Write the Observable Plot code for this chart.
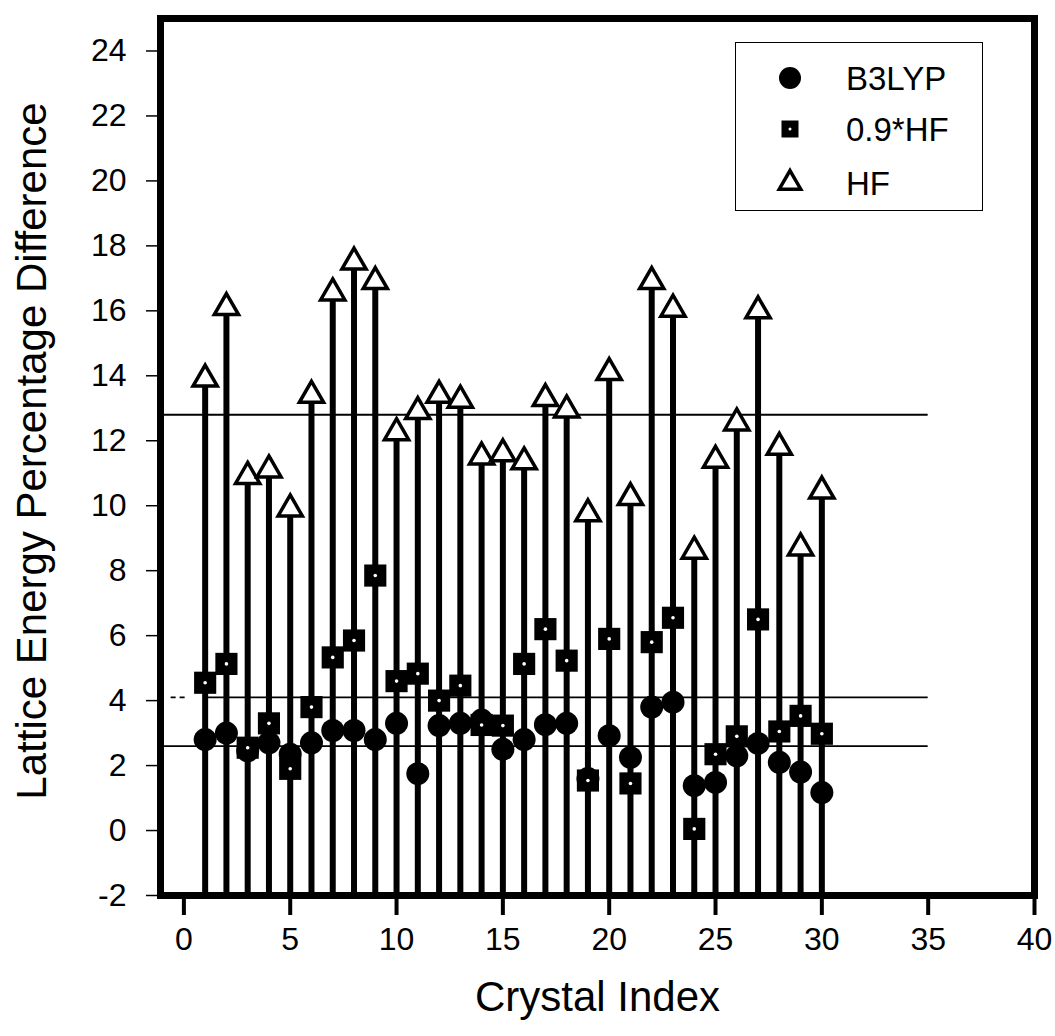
<!DOCTYPE html>
<html><head><meta charset="utf-8">
<script src="https://cdn.jsdelivr.net/npm/d3@7"></script>
<script src="https://cdn.jsdelivr.net/npm/@observablehq/plot@0.6"></script>
<style>
body{margin:0;background:#fff;}
#wrap{position:relative;width:1055px;height:1036px;font-family:"Liberation Sans",Arial,sans-serif;}
#legend{position:absolute;left:735px;top:42px;width:248px;height:169px;border:1.5px solid #000;box-sizing:border-box;background:#fff}
#legend svg{position:absolute;left:0;top:0}
</style></head><body><div id="wrap"></div>
<script>
// ---- data ----
const crystalIndex = [1,2,3,4,5,6,7,8,9,10,11,12,13,14,15,16,17,18,19,20,21,22,23,24,25,26,27,28,29,30];
const hfValues = [13.9,16.1,10.9,11.1,9.9,13.4,16.55,17.5,16.9,12.25,12.9,13.4,13.25,11.5,11.6,11.35,13.3,12.95,9.75,14.1,10.25,16.9,16.05,8.6,11.4,12.55,16.0,11.8,8.7,10.45];
const hf09Values = [4.55,5.13,2.55,3.3,1.9,3.8,5.33,5.85,7.85,4.6,4.83,4.0,4.46,3.25,3.23,5.13,6.2,5.23,1.54,5.9,1.45,5.8,6.55,0.05,2.35,2.9,6.5,3.05,3.53,2.98];
const b3lypValues = [2.8,3.0,2.45,2.7,2.35,2.7,3.08,3.08,2.8,3.3,1.75,3.23,3.3,3.4,2.5,2.8,3.26,3.3,1.6,2.92,2.25,3.8,3.95,1.38,1.48,2.3,2.68,2.1,1.8,1.17];
const meanLevels = [12.8, 4.1, 2.6];
const meanStart = [-1.1, 1, -1.1];
const meanEnd = [35, 35, 35];
const dashLevel = [4.1];
const dashStart = [-0.6];
const dashEnd = [0.1];
const xTicks = [0,5,10,15,20,25,30,35,40];
const yTicks = [-2,0,2,4,6,8,10,12,14,16,18,20,22,24];
const xDomain = [-1.1, 40];
const yDomain = [-2, 25];
const seriesNames = ["B3LYP", "0.9*HF", "HF"];

const rows = crystalIndex.map((x, i) => ({x, hf: hfValues[i], hf09: hf09Values[i], b3: b3lypValues[i]}));
const means = meanLevels.map((y, i) => ({y, x1: meanStart[i], x2: meanEnd[i]}));
const dashes = dashLevel.map((y, i) => ({y, x1: dashStart[i], x2: dashEnd[i]}));

const plot = Plot.plot({
  width: 1055, height: 1036,
  marginTop: 18, marginLeft: 160, marginRight: 21, marginBottom: 141,
  style: {fontFamily: "Liberation Sans, Arial, sans-serif", background: "white", color: "black"},
  x: {domain: xDomain},
  y: {domain: yDomain},
  marks: [
    Plot.ruleX(rows, {x: "x", y1: yDomain[0], y2: "hf", stroke: "black", strokeWidth: 6}),
    Plot.ruleY(means, {y: "y", x1: "x1", x2: "x2", stroke: "black", strokeWidth: 1.8}),
    Plot.ruleY(dashes, {y: "y", x1: "x1", x2: "x2", stroke: "black", strokeWidth: 1.8, strokeDasharray: "5,4"}),
    Plot.dot(rows, {x: "x", y: "b3", r: 11.5, fill: "black", stroke: "none"}),
    Plot.dot(rows, {x: "x", y: "hf09", symbol: "square", r: 12.5, fill: "black", stroke: "none"}),
    Plot.dot(rows, {x: "x", y: "hf09", r: 1.8, fill: "white", stroke: "none"}),
    Plot.dot(rows, {x: "x", y: "hf", symbol: "triangle", r: 9, fill: "white", stroke: "black", strokeWidth: 3.5}),
    Plot.frame({stroke: "black", strokeWidth: 7}),
    Plot.axisX(xTicks, {tickSize: 20, tickPadding: 12, strokeWidth: 4, fontSize: 32, label: null, tickFormat: d => String(d)}),
    Plot.axisY(yTicks, {tickSize: 14, tickPadding: 20, strokeWidth: 1.5, fontSize: 32, label: null, tickFormat: d => String(d)}),
    Plot.text(["Crystal Index"], {frameAnchor: "bottom", dy: 115, fontSize: 42}),
    Plot.text(["Lattice Energy Percentage Difference"], {frameAnchor: "left", textAnchor: "middle", rotate: -90, dx: -128, dy: -6, fontSize: 42})
  ]
});
const wrap = document.getElementById("wrap");
wrap.appendChild(plot);

// legend box drawn over the plot
const legend = document.createElement("div");
legend.id = "legend";
wrap.appendChild(legend);
const lsvg = d3.select(legend).append("svg").attr("width", 248).attr("height", 169);
const symbols = [d3.symbolCircle, d3.symbolSquare, d3.symbolTriangle];
const sizes = [Math.PI * 11 * 11, 17 * 17, Math.PI * 8 * 8];
const rowY = [35, 86, 140];
seriesNames.forEach((name, i) => {
  const g = lsvg.append("g").attr("transform", `translate(54,${rowY[i]})`);
  g.append("path").attr("d", d3.symbol(symbols[i], sizes[i])())
    .attr("fill", i === 2 ? "white" : "black")
    .attr("stroke", i === 2 ? "black" : "none")
    .attr("stroke-width", 3.5);
  if (i === 1) g.append("circle").attr("r", 1.5).attr("fill", "white");
  lsvg.append("text").attr("x", 110).attr("y", rowY[i]).attr("dy", "0.35em")
    .attr("font-size", 33).attr("font-family", "Liberation Sans, Arial, sans-serif").text(name);
});
</script>
</body></html>
